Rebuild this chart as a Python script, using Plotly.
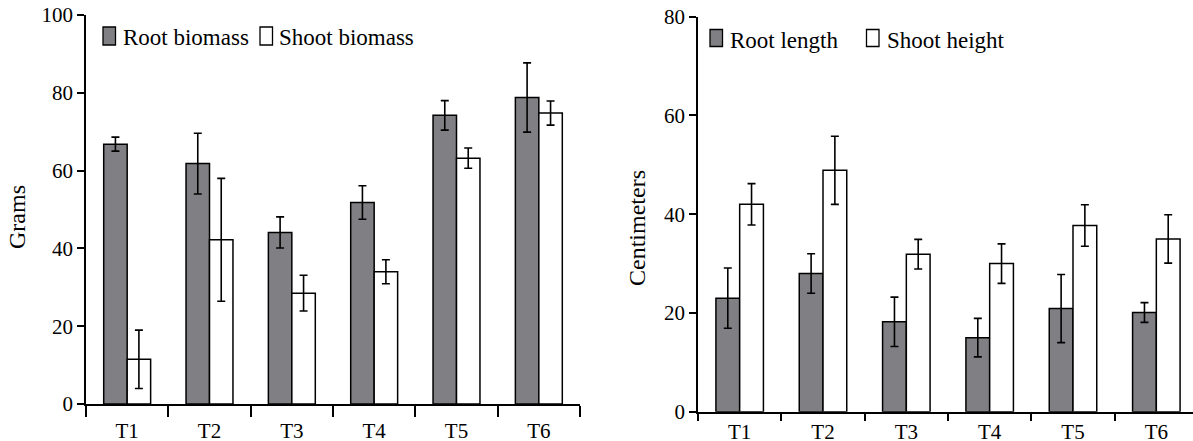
import plotly.graph_objects as go

categories = ["T1", "T2", "T3", "T4", "T5", "T6"]

root_biomass = [66.8, 61.8, 44.1, 51.8, 74.2, 78.8]
root_biomass_err = [1.8, 7.8, 4.0, 4.3, 3.8, 8.9]
shoot_biomass = [11.5, 42.2, 28.5, 34.0, 63.2, 74.8]
shoot_biomass_err = [7.5, 15.8, 4.6, 3.1, 2.6, 3.1]

root_length = [23.0, 28.0, 18.2, 15.0, 20.9, 20.1]
root_length_err = [6.1, 4.0, 5.0, 3.9, 6.9, 2.0]
shoot_height = [42.0, 48.9, 31.9, 30.0, 37.7, 35.0]
shoot_height_err = [4.2, 6.9, 3.0, 4.0, 4.2, 4.9]

left_names = ["Root biomass", "Shoot biomass"]
right_names = ["Root length", "Shoot height"]
left_ticks = [0, 20, 40, 60, 80, 100]
right_ticks = [0, 20, 40, 60, 80]

GRAY = "#808084"
FONT = "Liberation Serif"
W, H = 1193, 441
xs = list(range(len(categories)))
bounds = [i - 0.5 for i in range(len(categories) + 1)]

fig = go.Figure()

def add_bar(x, y, err, name, color, xa, ya):
    fig.add_trace(go.Bar(
        x=x, y=y, name=name, xaxis=xa, yaxis=ya, showlegend=False,
        marker=dict(color=color, line=dict(color="black", width=1.5)),
        error_y=dict(type="data", array=err, visible=True, color="black",
                     thickness=1.6, width=4),
        offsetgroup=name,
    ))

add_bar(xs, root_biomass, root_biomass_err, left_names[0], GRAY, "x", "y")
add_bar(xs, shoot_biomass, shoot_biomass_err, left_names[1], "white", "x", "y")
add_bar(xs, root_length, root_length_err, right_names[0], GRAY, "x2", "y2")
add_bar(xs, shoot_height, shoot_height_err, right_names[1], "white", "x2", "y2")

def px_x(p):
    return p / W

def px_y(p):
    return 1 - p / H

def xaxis_common(minorlen):
    return dict(
        tickmode="array", tickvals=xs, ticktext=categories,
        ticks="outside", tickcolor="rgba(0,0,0,0)",
        showline=True, linecolor="black", linewidth=1.5,
        showgrid=False, zeroline=False, automargin=False,
        tickfont=dict(family=FONT, size=21, color="black"),
        minor=dict(tickmode="array", tickvals=bounds, ticks="outside",
                   ticklen=minorlen, tickwidth=1.5, tickcolor="black", showgrid=False),
    )

yaxis_common = dict(
    tickmode="array", ticks="outside", ticklen=7, tickwidth=1.5, tickcolor="black",
    showline=True, linecolor="black", linewidth=1.5,
    showgrid=False, zeroline=False, automargin=False,
    tickfont=dict(family=FONT, size=21, color="black"),
)

# manual legends (swatch boxes + labels)
shapes = []
annotations = []
legend_specs = [
    (left_names, [GRAY, "white"], [103, 260], [121, 277], 27, 45, 37),
    (right_names, [GRAY, "white"], [710, 866.5], [728, 885], 29.5, 46.5, 40),
]
for names, colors, sx, tx, top, bot, ty in legend_specs:
    for name, color, s, t in zip(names, colors, sx, tx):
        shapes.append(dict(type="rect", xref="paper", yref="paper",
                           x0=px_x(s), x1=px_x(s + 12.5), y0=px_y(bot), y1=px_y(top),
                           fillcolor=color, line=dict(color="black", width=1.3)))
        annotations.append(dict(text=name, xref="paper", yref="paper",
                                x=px_x(t), y=px_y(ty), xanchor="left", yanchor="middle",
                                showarrow=False, font=dict(family=FONT, size=23, color="black")))

annotations += [
    dict(text="Grams", xref="paper", yref="paper", x=px_x(17), y=px_y(217),
         xanchor="center", yanchor="middle",
         showarrow=False, textangle=-90, font=dict(family=FONT, size=24, color="black")),
    dict(text="Centimeters", xref="paper", yref="paper", x=px_x(637), y=px_y(228),
         xanchor="center", yanchor="middle",
         showarrow=False, textangle=-90, font=dict(family=FONT, size=24, color="black")),
]

fig.update_layout(
    width=W, height=H,
    margin=dict(l=0, r=0, t=0, b=0, pad=0, autoexpand=False),
    paper_bgcolor="white", plot_bgcolor="white",
    barmode="group", bargap=0.43, bargroupgap=0,
    font=dict(family=FONT, size=21, color="black"),
    showlegend=False,
    xaxis=dict(domain=[px_x(86), px_x(580)], range=[-0.5, 5.5], anchor="y",
               ticklen=7, **xaxis_common(11)),
    yaxis=dict(domain=[px_y(404), px_y(15)], range=[0, 100], anchor="x",
               tickvals=left_ticks, **yaxis_common),
    xaxis2=dict(domain=[px_x(698), 1.0], range=[-0.5, 5.44], anchor="y2",
                ticklen=0, **xaxis_common(8)),
    yaxis2=dict(domain=[px_y(411.7), px_y(16.7)], range=[0, 80], anchor="x2",
                tickvals=right_ticks, **yaxis_common),
    shapes=shapes,
    annotations=annotations,
)

fig.write_html("out.html", config={"displayModeBar": False},
               post_script="document.body.style.margin='0';")
